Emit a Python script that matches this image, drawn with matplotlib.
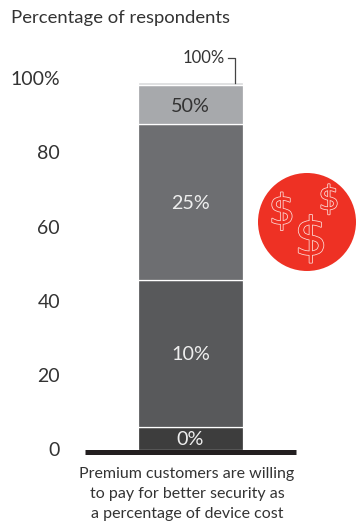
import matplotlib
matplotlib.use('Agg')
import matplotlib.pyplot as plt
import matplotlib.patheffects as pe
from matplotlib.patches import Circle

plt.rcParams['font.family'] = ['Lato', 'DejaVu Sans']

# valores
segments = [6, 39.5, 42, 10.5, 1]
labels = ['0%', '10%', '25%', '50%', '']
colors = ['#3d3d3d', '#58595b', '#6d6e71', '#a7a9ac', '#dcddde']
text_colors = ['#eeeeee', '#eeeeee', '#eeeeee', '#333333', '#333333']
yticks = [0, 20, 40, 60, 80, 100]
ytick_labels = ['0', '20', '40', '60', '80', '100%']
top_label = '100%'
title = 'Percentage of respondents'
caption = 'Premium customers are willing\nto pay for better security as\na percentage of device cost'

W, H = 356, 527
fig = plt.figure(figsize=(W / 100, H / 100), dpi=100)
ax = fig.add_axes([85 / W, 1 - 449.5 / H, 211 / W, 371.5 / H])

# barra empilhada
bottom = 0
for seg, lab, c, tc in zip(segments, labels, colors, text_colors):
    ax.bar(0, seg, width=105 / 105.5, bottom=bottom, color=c, edgecolor='white', linewidth=0.9)
    if lab:
        ax.text(0, bottom + seg / 2 - 0.3, lab, ha='center', va='center', fontsize=14.2, color=tc)
    bottom += seg

ax.set_xlim(-1, 1)
ax.set_ylim(0, 100)
ax.set_xticks([])
ax.set_yticks(yticks)
ax.set_yticklabels(ytick_labels, fontsize=14, color='#333333')
ax.tick_params(axis='y', length=0, pad=18)
for s in ['top', 'left', 'right']:
    ax.spines[s].set_visible(False)
ax.spines['bottom'].set_linewidth(3.6)
ax.spines['bottom'].set_color('#231f20')
ax.spines['bottom'].set_position(('outward', 1.8))
ax.spines['bottom'].set_capstyle('butt')
ax.patch.set_alpha(0)

# rótulo do topo com guia
ax.text(0.327, 105.3, top_label, va='center', ha='right', fontsize=12, color='#333333')
ax.plot([0.355, 0.42, 0.42], [105.3, 105.3, 98.7], color='#444444', lw=0.9, clip_on=False)

fig.text(11 / W, 1 - 18 / H, title, fontsize=13.3, color='#333333', va='center', ha='left')
fig.text(187 / W, 1 - 494 / H, caption, fontsize=11.5, color='#333333', va='center', ha='center', linespacing=1.55)

# círculo vermelho com cifrões
overlay = fig.add_axes([0, 0, 1, 1])
overlay.set_xlim(0, W)
overlay.set_ylim(H, 0)
overlay.axis('off')
overlay.add_patch(Circle((307, 222), 49, color='#ee3124', lw=0))
for x, y, size in [(282, 212, 30), (329, 200, 24), (311, 240, 38)]:
    overlay.text(x, y, '$', fontsize=size, color='#ee3124', ha='center', va='center', family='DejaVu Sans',
                 path_effects=[pe.withStroke(linewidth=1.1, foreground='#fde0dc')])

fig.savefig('out.png', dpi=100)
